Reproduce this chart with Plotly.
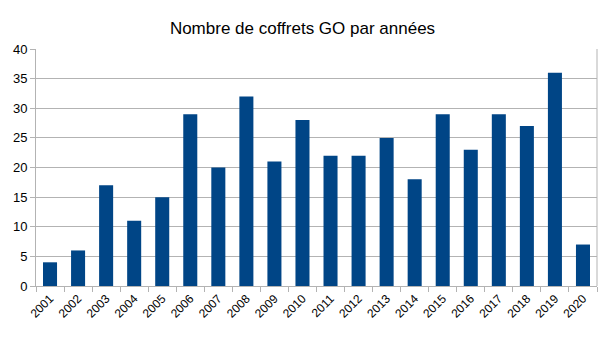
import plotly.graph_objects as go

years = [str(y) for y in range(2001, 2021)]
coffrets = [4, 6, 17, 11, 15, 29, 20, 32, 21, 28, 22, 22, 25, 18, 29, 23, 29, 27, 36, 7]

fig = go.Figure(
    go.Bar(x=years, y=coffrets, marker=dict(color="#004586", line=dict(width=0)))
)

fig.update_layout(
    width=605,
    height=340,
    margin=dict(l=36, r=8, t=49, b=54),
    paper_bgcolor="white",
    plot_bgcolor="white",
    bargap=0.5,
    showlegend=False,
    font=dict(family="Liberation Sans, Arial, sans-serif", size=12, color="#000000"),
    title=dict(
        text="Nombre de coffrets GO par années",
        x=0.5,
        xanchor="center",
        y=0.917,
        yanchor="middle",
        font=dict(size=17, color="#000000"),
    ),
)

fig.update_xaxes(
    type="category",
    tickangle=-45,
    tickson="boundaries",
    ticks="outside",
    ticklen=5,
    tickcolor="#b3b3b3",
    showline=True,
    linecolor="#b3b3b3",
    linewidth=1,
    mirror=False,
    showgrid=False,
    tickfont=dict(size=12),
)

fig.update_yaxes(
    range=[0, 40],
    dtick=5,
    ticks="outside",
    ticklen=5,
    tickcolor="#b3b3b3",
    showline=True,
    linecolor="#b3b3b3",
    linewidth=1,
    showgrid=True,
    gridcolor="#b3b3b3",
    gridwidth=1,
    zeroline=False,
    tickfont=dict(size=13),
)

# right-hand frame edge
fig.add_shape(type="line", xref="paper", yref="paper", x0=1, x1=1, y0=0, y1=1,
              line=dict(color="#b3b3b3", width=1))

fig.write_html("out.html")
